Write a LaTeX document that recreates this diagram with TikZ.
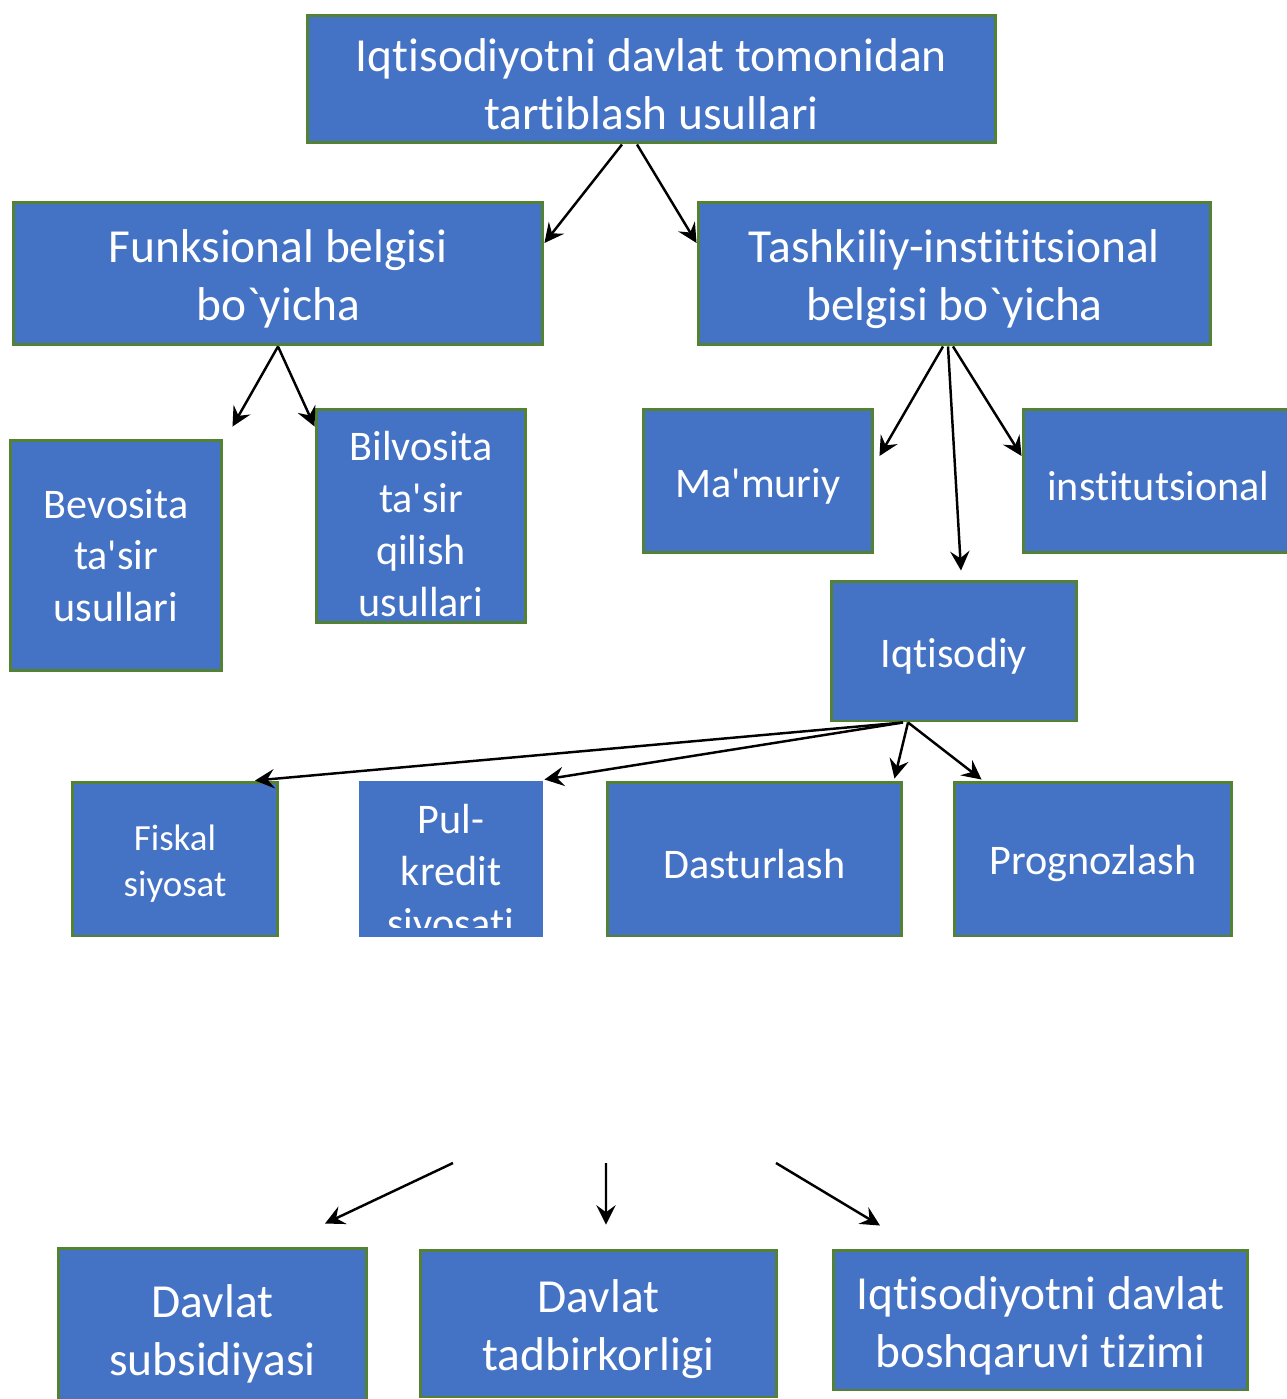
\documentclass[tikz,border=0pt]{standalone}
\usepackage{fontspec}
\setmainfont{Carlito}[Ligatures={TeXOff,NoCommon}]
\usepackage{tikz}
\usetikzlibrary{calc,arrows.meta}

\definecolor{boxblue}{RGB}{68,114,196}
\definecolor{boxgreen}{RGB}{84,130,53}

% extra room above the first line
\newcommand{\hup}{\rule{0pt}{0.93em}}

\tikzset{
	box/.style={shape=rectangle, fill=boxblue, draw=boxgreen, line width=1.7pt,
		text=white, align=center, inner sep=0pt},
	bigtxt/.style={font=\fontsize{27}{33}\selectfont},
	midtxt/.style={font=\fontsize{24}{29.5}\selectfont,
		execute at begin node={\rule{0pt}{0.92em}}},
	smalltxt/.style={font=\fontsize{21}{26}\selectfont},
	arr/.style={-{Stealth[length=11pt,width=11pt,inset=4pt]}, line width=1.4pt},
}

\begin{document}
\begin{tikzpicture}[x=0.02cm, y=-0.02cm]
	
	\useasboundingbox (0,0) rectangle (1287,1399);
	
	% top level
	\node[box, bigtxt, minimum width=13.78cm, minimum height=2.56cm] (top) at (651.5, 79)
		{\hup Iqtisodiyotni davlat tomonidan\\tartiblash usullari};
	
	\node[box, bigtxt, minimum width=10.6cm, minimum height=2.86cm] (fun) at (278, 273.5)
		{\hup Funksional belgisi\\bo`yicha};
	\node[box, bigtxt, minimum width=10.26cm, minimum height=2.86cm] (tash) at (954.5, 273.5)
		{\hup Tashkiliy-instititsional\\belgisi bo`yicha};
	
	% under funksional
	\node[box, midtxt, minimum width=4.24cm, minimum height=4.62cm] (bev) at (116, 555.5)
		{Bevosita\\ta'sir\\usullari};
	\node[box, minimum width=4.2cm, minimum height=4.28cm] (bil) at (421, 516) {};
	\begin{scope}
		\clip (316,409) rectangle (526,618);
		\node[text=white, align=center, midtxt, inner sep=0pt] (bilT) at (421, 524)
			{Bilvosita\\ta'sir\\qilish\\usullari};
	\end{scope}
	
	% under tashkiliy
	\node[box, midtxt, minimum width=4.6cm, minimum height=2.88cm] (mam) at (758, 481) {Ma'muriy};
	\node[box, midtxt, minimum width=5.42cm, minimum height=2.88cm] (inst) at (1158.5, 481) {institutsional};
	\node[box, midtxt, minimum width=4.92cm, minimum height=2.8cm] (iqt) at (954, 651) {Iqtisodiy};
	
	% under iqtisodiy
	\node[box, smalltxt, minimum width=4.12cm, minimum height=3.08cm] (fis) at (175, 859)
		{\hup Fiskal\\siyosat};
	\node[box, draw=none, minimum width=3.68cm, minimum height=3.12cm] (pul) at (451, 859) {};
	\begin{scope}
		\clip (359,781) rectangle (543,927);
		\node[text=white, align=center, midtxt, inner sep=0pt] (pulT) at (451, 874)
			{Pul-\\kredit\\siyosati};
	\end{scope}
	\node[box, midtxt, minimum width=5.9cm, minimum height=3.08cm] (das) at (754.5, 859) {Dasturlash};
	\node[box, midtxt, minimum width=5.56cm, minimum height=3.08cm] (pro) at (1093, 859) {Prognozlash};
	
	% bottom row
	\node[box, bigtxt, minimum width=6.18cm, minimum height=3.2cm] (sub) at (212.5, 1328)
		{\hup Davlat\\subsidiyasi};
	\node[box, bigtxt, minimum width=7.14cm, minimum height=2.94cm] (tad) at (598.5, 1323.5)
		{\hup Davlat\\tadbirkorligi};
	\node[box, bigtxt, minimum width=8.3cm, minimum height=2.8cm] (bos) at (1040.5, 1320)
		{\hup Iqtisodiyotni davlat\\boshqaruvi tizimi};
	
	\coordinate (s1) at (453, 1163);
	\coordinate (s2) at (606, 1163);
	\coordinate (s3) at (776, 1163);
	
	% arrows
	\draw[arr] ($(top.south)+(-29.5,0)$) -- ($(fun.east)+(0,-30.5)$);
	\draw[arr] ($(top.south)+(-14.5,0)$) -- ($(tash.west)+(0,-30.5)$);
	
	\draw[arr] (fun.south) -- ($(bev.north east)+(9,-12)$);
	\draw[arr] (fun.south) -- ($(bil.north west)+(0,19)$);
	
	\draw[arr] ($(tash.south)+(-11.5,0)$) -- ($(mam.east)+(5,-25)$);
	\draw[arr] ($(tash.south)+(-6.5,0)$) -- ($(iqt.north)+(7,-9)$);
	\draw[arr] ($(tash.south)+(-1.5,0)$) -- ($(inst.west)+(0,-25)$);
	
	\draw[arr] ($(iqt.south)+(-51,0)$) -- ($(fis.north)+(80,0)$);
	\draw[arr] ($(iqt.south)+(-51,0)$) -- (pul.north east);
	\draw[arr] ($(iqt.south)+(-46,0)$) -- ($(das.north east)+(-9,-2)$);
	\draw[arr] ($(iqt.south)+(-46,0)$) -- ($(pro.north west)+(29,-1)$);
	
	\draw[arr] (s1) -- ($(sub.north)+(112.5,-23)$);
	\draw[arr] (s2) -- ($(tad.north)+(7.5,-24)$);
	\draw[arr] (s3) -- ($(bos.north)+(-160.5,-23)$);
	
\end{tikzpicture}
\end{document}
